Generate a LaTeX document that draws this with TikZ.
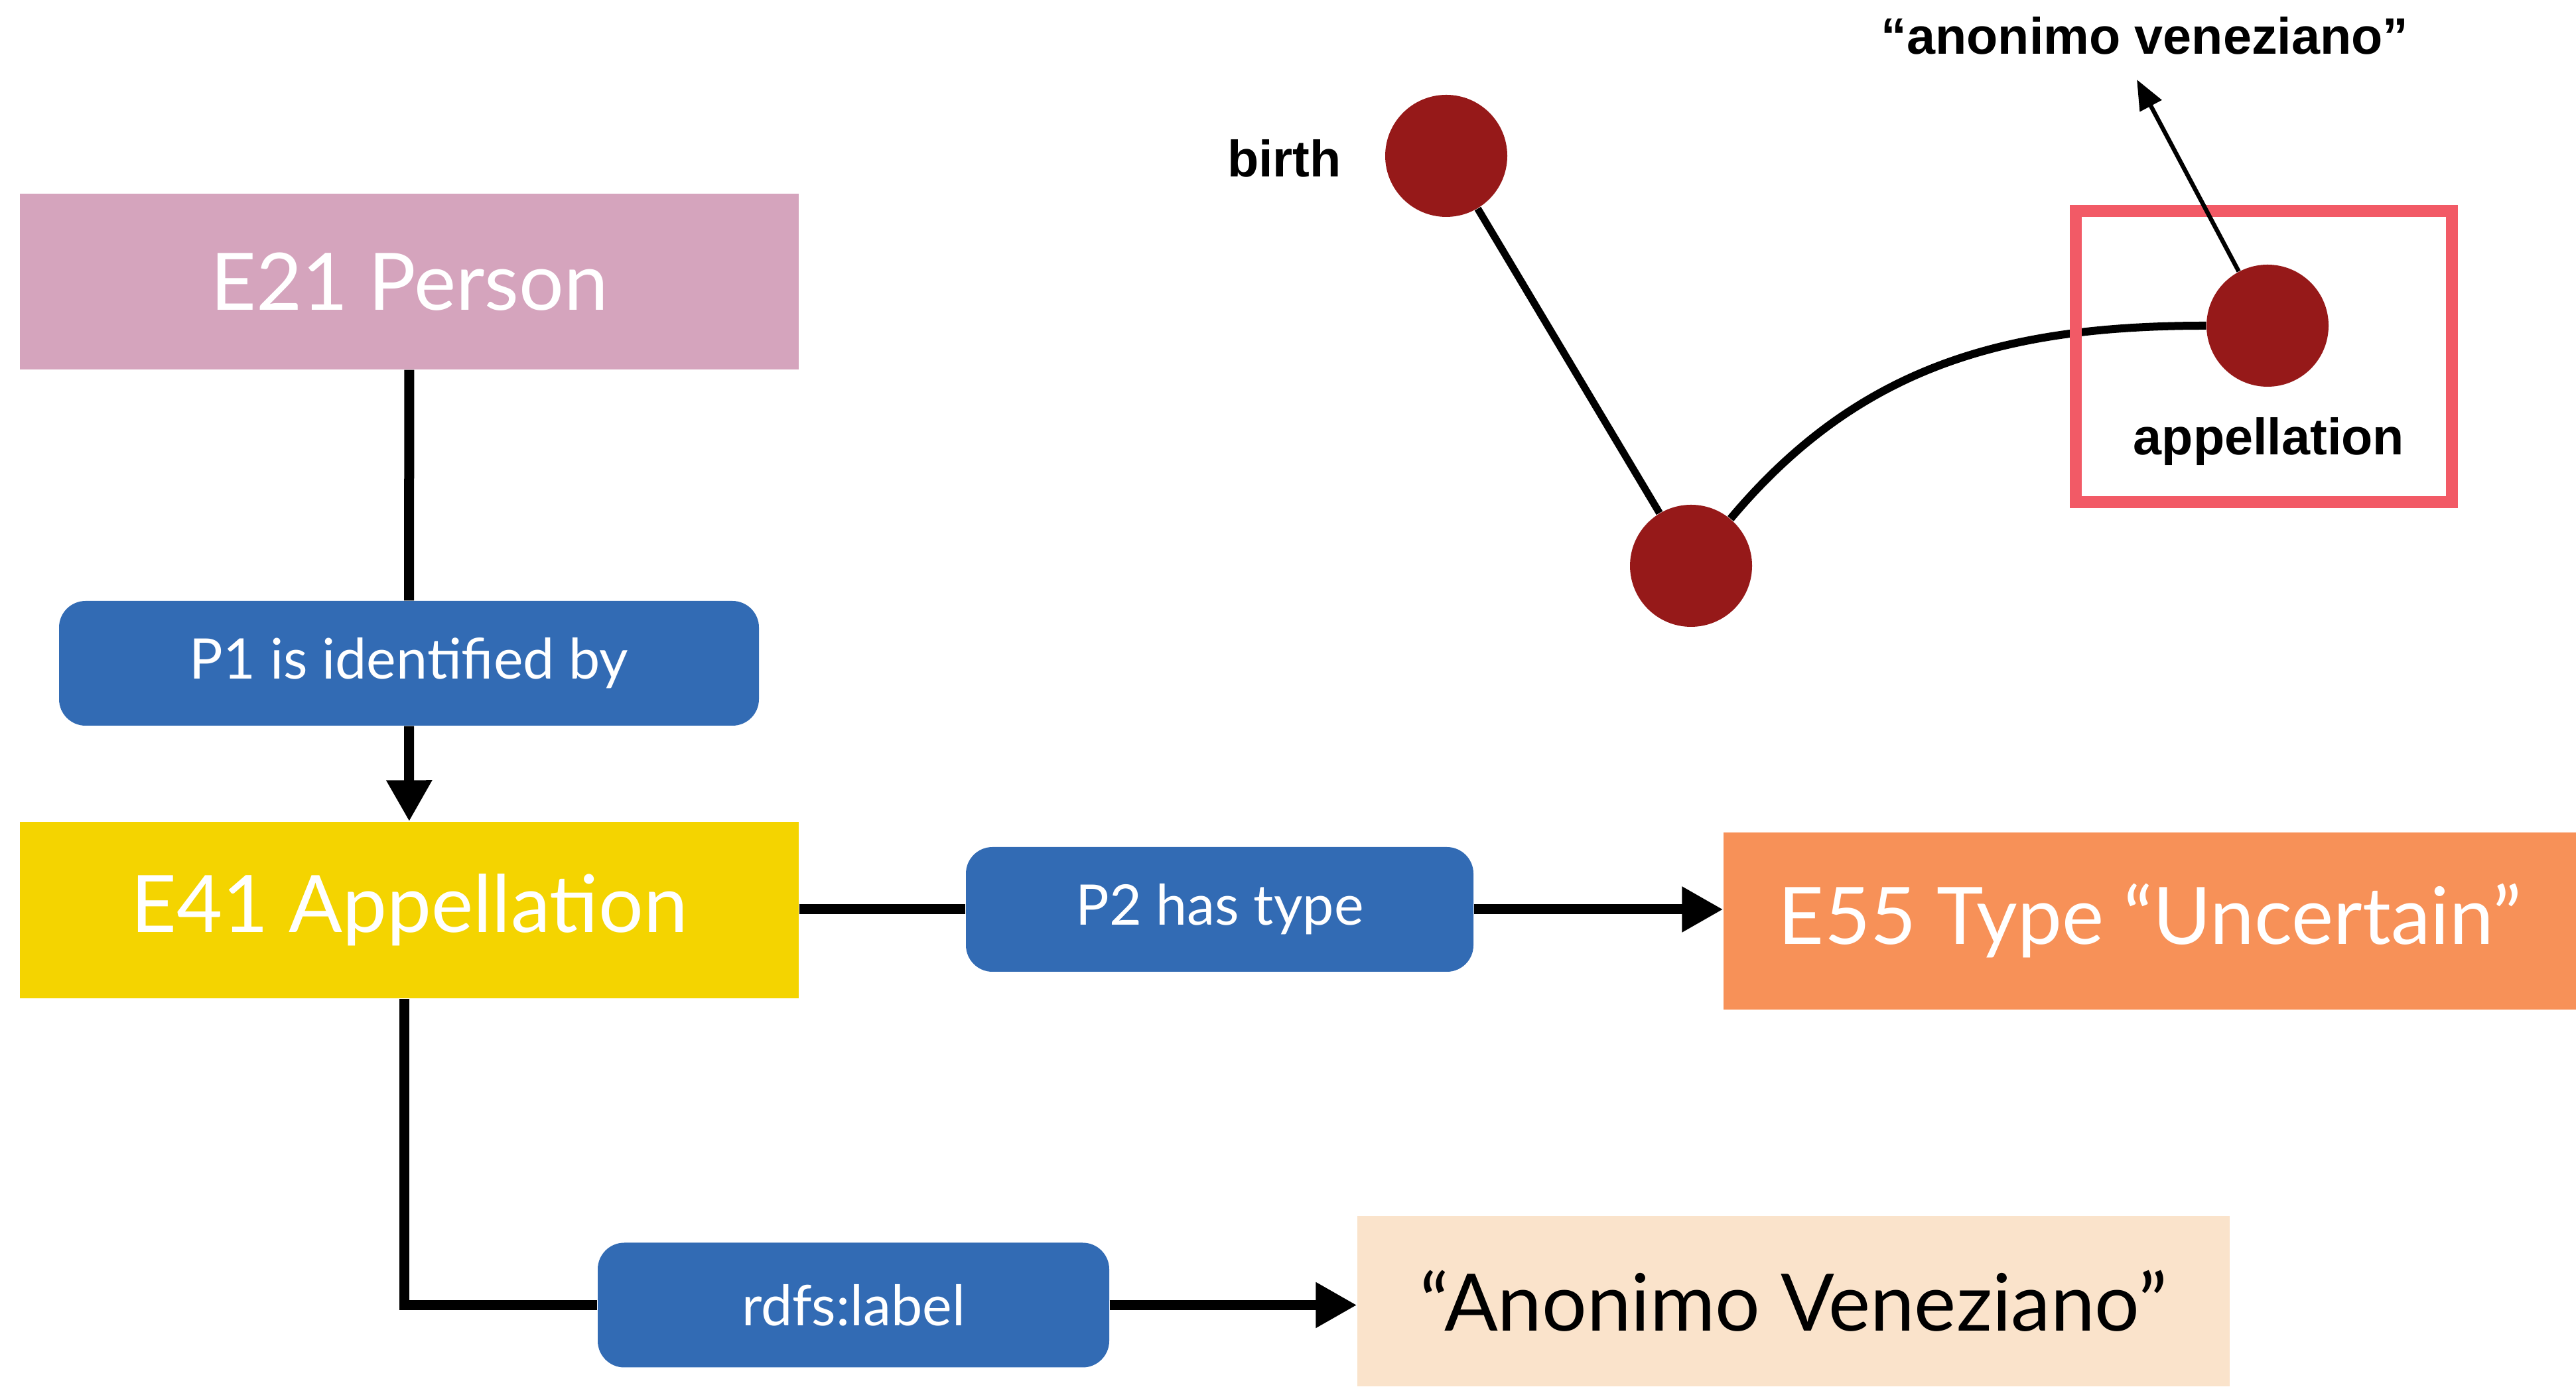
\documentclass[tikz,border=0pt]{standalone}
\usepackage{fontspec}
\setmainfont{Lato}
\newfontfamily\helvfont{Liberation Sans}
\usetikzlibrary{arrows.meta}
\definecolor{personpink}{RGB}{213,164,189}
\definecolor{propblue}{RGB}{50,107,180}
\definecolor{appyellow}{RGB}{244,212,0}
\definecolor{typeorange}{RGB}{247,145,88}
\definecolor{labelpeach}{RGB}{250,227,203}
\definecolor{dotred}{RGB}{150,25,25}
\definecolor{framered}{RGB}{242,90,102}

\begin{document}
\begin{tikzpicture}[
    entity/.style={rectangle, inner sep=0pt, text=white, font=\fontsize{34}{40}\selectfont},
    prop/.style={rectangle, rounded corners=0.4cm, fill=propblue, inner sep=0pt, text=white,
                 minimum height=1.88cm, font=\fontsize{24}{28}\selectfont},
    link/.style={line width=0.15cm},
    linkarrow/.style={line width=0.15cm, -{Triangle[length=0.62cm,width=0.65cm]}},
    dot/.style={circle, fill=dotred, minimum size=1.84cm, inner sep=0pt},
    tag/.style={inner sep=0pt, font=\helvfont\bfseries\fontsize{22}{26}\selectfont}
  ]
    \useasboundingbox (0,0) rectangle (38.83,20.90);

    % CRM chain
    \node[entity, fill=personpink, minimum width=11.74cm, minimum height=2.65cm] (person) at (6.17,16.655) {E21 Person};
    \node[prop, minimum width=10.55cm] (p1) at (6.165,10.90) {P1 is identified by};
    \node[entity, fill=appyellow, minimum width=11.74cm, minimum height=2.66cm] (appel) at (6.17,7.18) {E41 Appellation};
    \node[prop, minimum width=7.65cm] (p2) at (18.385,7.19) {P2 has type};
    \node[entity, fill=typeorange, minimum width=12.85cm, minimum height=2.67cm] (type) at (32.405,7.015) {E55 Type “Uncertain”};
    \node[prop, minimum width=7.71cm] (rdfs) at (12.865,1.225) {rdfs:label};
    \node[entity, fill=labelpeach, text=black, minimum width=13.15cm, minimum height=2.57cm] (name) at (27.035,1.285) {“Anonimo Veneziano”};

    \draw[link] (person) -- (p1);
    \draw[linkarrow] (p1) -- (appel);
    \draw[link] (appel.east |- p2.west) -- (p2.west);
    \draw[linkarrow] (p2.east) -- (p2.east -| type.west);
    \draw[link] ([xshift=-0.08cm]appel.south) |- (rdfs.west);
    \draw[linkarrow] (rdfs.east) -- (rdfs.east -| name.west);

    % small graph
    \node[dot] (birth) at (21.80,18.55) {};
    \node[dot] (event) at (25.49,12.37) {};
    \node[dot] (app) at (34.18,15.99) {};
    \node[tag] (birthtxt) at (19.36,18.51) {birth};
    \node[tag] (apptxt) at (34.20,14.24) {appellation};
    \node[tag] (anontxt) at (32.33,20.36) {“anonimo veneziano”};
    \coordinate (antip) at (32.21,19.70);

    \draw[line width=0.11cm] (birth) -- (event);
    \draw[line width=0.12cm] (event) to[out=50,in=180] (app);
    \node[draw=framered, line width=0.18cm, minimum width=5.67cm, minimum height=4.39cm] (frame) at (34.125,15.525) {};
    \draw[line width=0.065cm, -{Triangle[length=0.45cm,width=0.36cm]}] (app) -- (antip);
\end{tikzpicture}
\end{document}
